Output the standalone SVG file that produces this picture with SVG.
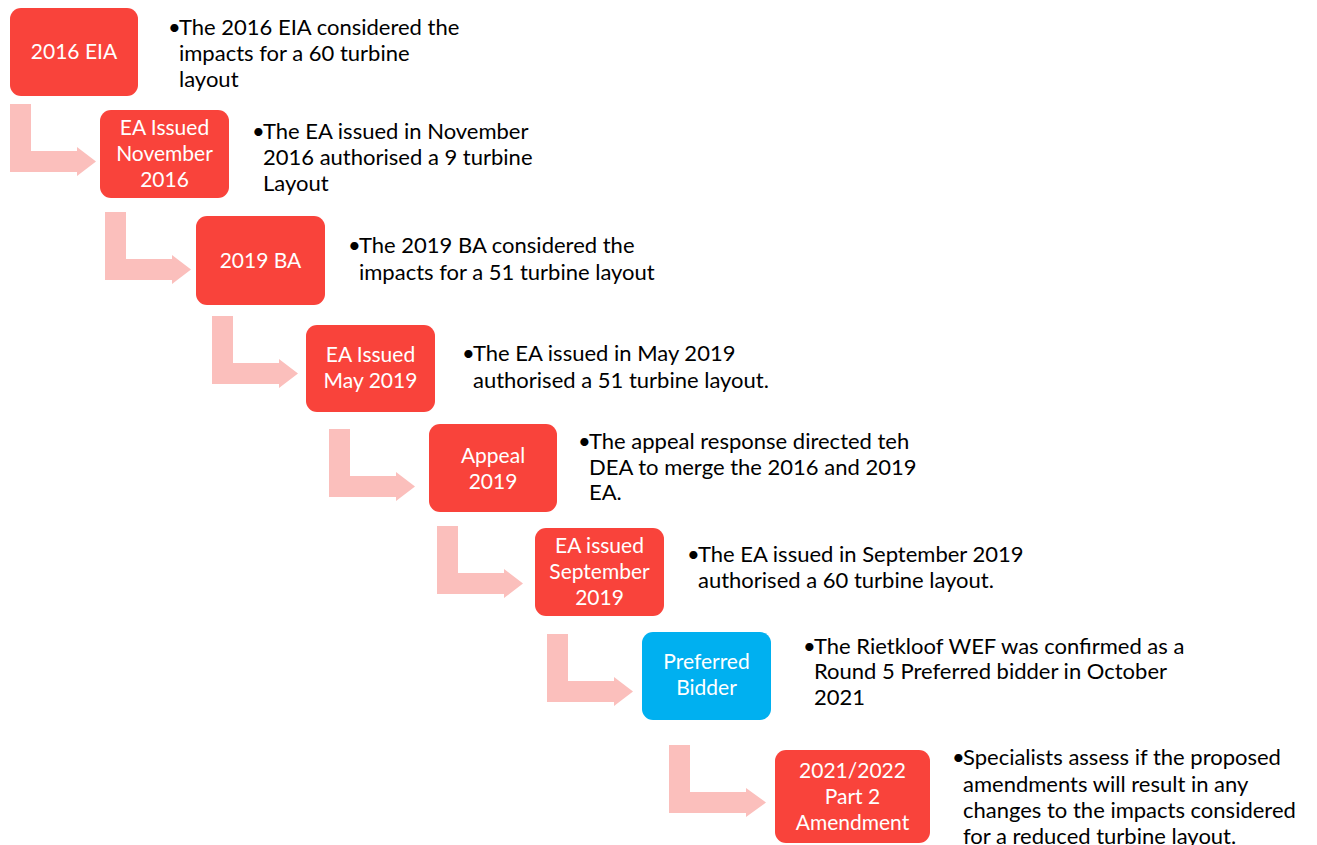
<svg xmlns="http://www.w3.org/2000/svg" width="1317" height="845" viewBox="0 0 1317 845">
<defs>
<style>
.box{fill:#F9433B;}
.blue{fill:#00B0F0;}
.arr{fill:#FBBFBC;}
.bl{font-family:Lato,"Liberation Sans",sans-serif;font-size:21px;fill:#FFFFFF;text-anchor:middle;}
.ds{font-family:Lato,"Liberation Sans",sans-serif;font-size:22px;fill:#000000;}
</style>
<path id="bent" d="M0,0 H21 V47 H67 V43 L86,57.5 L67,72 V68 H0 Z"/>
<path id="bentLong" d="M0,0 H21 V47 H77 V43 L97,57.5 L77,72 V68 H0 Z"/>
</defs>
<rect width="1317" height="845" fill="#FFFFFF"/>
<g id="connectors">
<use href="#bent" class="arr" x="10" y="104"/>
<use href="#bent" class="arr" x="105" y="212"/>
<use href="#bent" class="arr" x="212" y="316"/>
<use href="#bent" class="arr" x="329" y="429"/>
<use href="#bent" class="arr" x="437" y="526"/>
<use href="#bent" class="arr" x="547" y="634"/>
<use href="#bentLong" class="arr" x="669" y="745"/>
</g>
<g id="node1">
<rect class="box" x="10" y="8" width="128" height="88" rx="11"/>
<text class="bl" x="74" y="59">2016 EIA</text>
<text class="ds" x="168" y="35">•<tspan x="179">The 2016 EIA considered the</tspan></text>
<text class="ds" x="179" y="61">impacts for a 60 turbine</text>
<text class="ds" x="179" y="87">layout</text>
</g>
<g id="node2">
<rect class="box" x="100" y="110" width="129" height="88" rx="11"/>
<text class="bl" x="164.5" y="135">EA Issued</text>
<text class="bl" x="164.5" y="161">November</text>
<text class="bl" x="164.5" y="187">2016</text>
<text class="ds" x="252" y="139">•<tspan x="263">The EA issued in November</tspan></text>
<text class="ds" x="263" y="165">2016 authorised a 9 turbine</text>
<text class="ds" x="263" y="191">Layout</text>
</g>
<g id="node3">
<rect class="box" x="196" y="216" width="129" height="89" rx="11"/>
<text class="bl" x="260.5" y="268">2019 BA</text>
<text class="ds" x="348" y="253">•<tspan x="359">The 2019 BA considered the</tspan></text>
<text class="ds" x="359" y="280">impacts for a 51 turbine layout</text>
</g>
<g id="node4">
<rect class="box" x="306" y="325" width="129" height="87" rx="11"/>
<text class="bl" x="370.5" y="362">EA Issued</text>
<text class="bl" x="370.5" y="388">May 2019</text>
<text class="ds" x="462" y="361">•<tspan x="473">The EA issued in May 2019</tspan></text>
<text class="ds" x="473" y="388">authorised a 51 turbine layout.</text>
</g>
<g id="node5">
<rect class="box" x="429" y="424" width="128" height="88" rx="11"/>
<text class="bl" x="493" y="463">Appeal</text>
<text class="bl" x="493" y="489">2019</text>
<text class="ds" x="578" y="449">•<tspan x="589">The appeal response directed teh</tspan></text>
<text class="ds" x="589" y="475">DEA to merge the 2016 and 2019</text>
<text class="ds" x="589" y="500">EA.</text>
</g>
<g id="node6">
<rect class="box" x="535" y="528" width="129" height="88" rx="11"/>
<text class="bl" x="599.5" y="553">EA issued</text>
<text class="bl" x="599.5" y="579">September</text>
<text class="bl" x="599.5" y="605">2019</text>
<text class="ds" x="687" y="562">•<tspan x="698">The EA issued in September 2019</tspan></text>
<text class="ds" x="698" y="588">authorised a 60 turbine layout.</text>
</g>
<g id="node7">
<rect class="blue" x="642" y="632" width="129" height="88" rx="11"/>
<text class="bl" x="706.5" y="669">Preferred</text>
<text class="bl" x="706.5" y="695">Bidder</text>
<text class="ds" x="803" y="654">•<tspan x="814">The Rietkloof WEF was confirmed as a</tspan></text>
<text class="ds" x="814" y="679">Round 5 Preferred bidder in October</text>
<text class="ds" x="814" y="705">2021</text>
</g>
<g id="node8">
<rect class="box" x="775" y="750" width="155" height="93" rx="11"/>
<text class="bl" x="852.5" y="778">2021/2022</text>
<text class="bl" x="852.5" y="804">Part 2</text>
<text class="bl" x="852.5" y="830">Amendment</text>
<text class="ds" x="952" y="765">•<tspan x="963">Specialists assess if the proposed</tspan></text>
<text class="ds" x="963" y="792">amendments will result in any</text>
<text class="ds" x="963" y="818">changes to the impacts considered</text>
<text class="ds" x="963" y="844">for a reduced turbine layout.</text>
</g>
</svg>
